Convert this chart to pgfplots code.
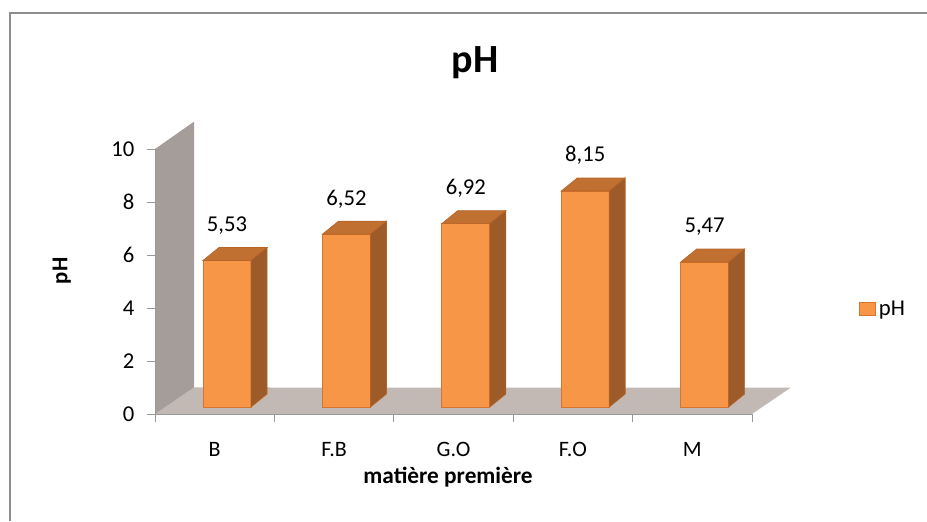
\documentclass[border=0pt]{standalone}
\usepackage{pgfplots}
\pgfplotsset{compat=1.18}
\usepackage{fontspec}
\setmainfont{Carlito}
\definecolor{barc}{HTML}{F79646}
\definecolor{edgec}{HTML}{D9742E}
\definecolor{sidec}{HTML}{9C5B28}
\definecolor{topc}{HTML}{C07031}
\definecolor{wallc}{HTML}{A49D99}
\definecolor{floorc}{HTML}{C3B9B4}
\definecolor{framec}{HTML}{8E8E8E}
\begin{document}
\begin{tikzpicture}
\path[use as bounding box] (0,0) rectangle (695.25pt,-390.75pt);
\draw[framec, line width=1.5pt] (7.5pt,-390.75pt) -- (7.5pt,-9.75pt) -- (695.25pt,-9.75pt);
% main axis: frame, wall, floor, ticks, labels
\begin{axis}[
  at={(116.25pt,-310.5pt)}, anchor=south west,
  scale only axis, width=447.75pt, height=198.75pt,
  xmin=0, xmax=5, ymin=0, ymax=10,
  clip=false, axis on top,
  axis lines*=left,
  axis line style={draw=gray!80, line width=0.75pt},
  tick style={draw=gray!80, line width=0.75pt},
  tick align=outside, major tick length=6pt,
  ytick={0,2,...,10},
  xtick={0,...,5},
  x tick label as interval,
  xticklabels={B,F.B,G.O,F.O,M},
  /pgf/number format/assume math mode=true,
  yticklabel style={font=\fontsize{17}{20}\selectfont, xshift=-6pt},
  xticklabel style={font=\fontsize{16.5}{20}\selectfont, yshift=-11.5pt},
  title={pH},
  title style={at={(axis description cs:0.536,1.257)}, anchor=base, font=\bfseries\fontsize{30}{36}\selectfont},
  xlabel={matière première},
  xlabel style={at={(axis description cs:0.491,-0.24)}, anchor=center, font=\bfseries\fontsize{17.5}{21}\selectfont},
  ylabel={pH},
  ylabel style={at={(axis description cs:-0.156,0.54)}, anchor=center, rotate=0, font=\bfseries\fontsize{17}{20}\selectfont},
  legend style={at={(axis description cs:1.1725,0.396)}, anchor=west, draw=none, fill=none, font=\fontsize{17}{20}\selectfont},
]
\fill[floorc] (axis cs:0,0) -- (axis cs:5,0) -- ([shift={(29pt,19.75pt)}]axis cs:5,0) -- ([shift={(29.25pt,19.9pt)}]axis cs:0,0) -- cycle;
\fill[wallc] (axis cs:0,0) -- (axis cs:0,10) -- ([shift={(29.25pt,20.5pt)}]axis cs:0,10) -- ([shift={(29.25pt,19.9pt)}]axis cs:0,0) -- cycle;
\addlegendimage{legend image code/.code={\filldraw[fill=barc, draw=edgec, line width=0.75pt] (0pt,-4.9pt) rectangle (12pt,4.9pt);}}
\addlegendentry{pH}
\end{axis}
% bar axis (bars sit on the floor, behind the front edge)
\begin{axis}[
  at={(125.5pt,-305.25pt)}, anchor=south west,
  scale only axis, width=447.75pt, height=198.75pt,
  xmin=0, xmax=5, ymin=0, ymax=10,
  hide axis, clip=false,
  /pgf/number format/.cd, use comma, fixed, fixed zerofill, precision=2, assume math mode=true,
]
\addplot[ybar, bar width=36pt, fill=barc, draw=edgec, line width=0.75pt,
  nodes near coords,
  every node near coord/.append style={anchor=center, yshift=26.5pt, font=\fontsize{17}{20}\selectfont, text=black}]
  coordinates {(0.5,5.53) (1.5,6.52) (2.5,6.92) (3.5,8.15) (4.5,5.47)};
\addplot[only marks, mark=*, mark size=0pt, mark options={draw=none, fill=none}, scatter,
  visualization depends on={rawy \as \ry},
  scatter/@pre marker code/.code={%
    \pgfmathsetmacro\h{-\ry*19.875}%
    \pgfmathsetmacro\hb{9.75-\ry*19.875}%
    \filldraw[fill=topc, draw=edgec!85!black, line width=0.5pt] (-18pt,0pt) -- (-6pt,9.75pt) -- (30pt,9.75pt) -- (18pt,0pt) -- cycle;
    \filldraw[fill=sidec, draw=edgec!85!black, line width=0.5pt] (18pt,0pt) -- (30pt,9.75pt) -- (30pt,\hb pt) -- (18pt,\h pt) -- cycle;
    \begin{pgfscope}%
  },
  scatter/@post marker code/.code={\end{pgfscope}},
] coordinates {(0.5,5.53) (1.5,6.52) (2.5,6.92) (3.5,8.15) (4.5,5.47)};
\end{axis}
\end{tikzpicture}
\end{document}
